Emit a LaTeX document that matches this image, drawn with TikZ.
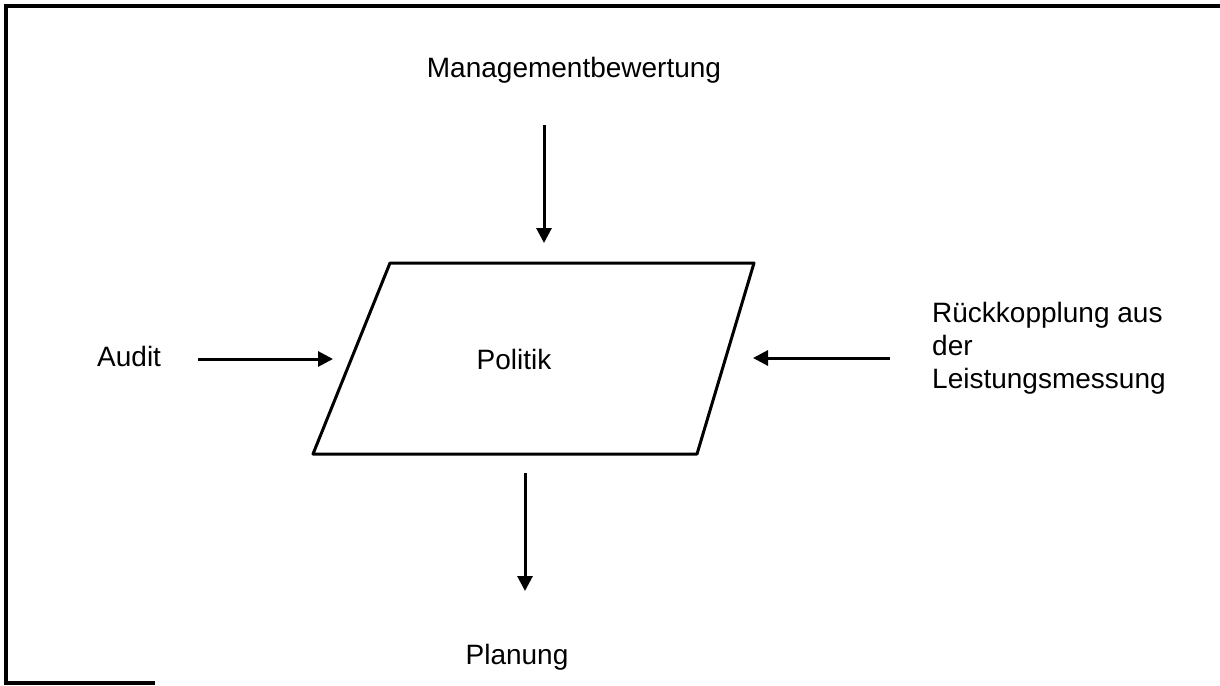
\documentclass[tikz,border=0pt]{standalone}
\usepackage{fontspec}
\setmainfont{Liberation Sans}
\usetikzlibrary{arrows.meta}
\begin{document}
\begin{tikzpicture}[x=1pt,y=-1pt,
  lbl/.style={font=\fontsize{28}{33}\selectfont, inner sep=0pt},
  arr/.style={line width=3pt, -{Triangle[length=15pt,width=15pt]}},
  frame/.style={line width=3.5pt}]
\useasboundingbox (0,0) rectangle (1220,685);
% frame (partial, as scanned)
\coordinate (f1) at (1220,6);
\coordinate (f2) at (6,6);
\coordinate (f3) at (6,683);
\coordinate (f4) at (155,683);
\draw[frame] (f1) -- (f2) -- (f3) -- (f4);
% parallelogram
\coordinate (p1) at (390,263);
\coordinate (p2) at (754,263);
\coordinate (p3) at (697,454);
\coordinate (p4) at (313,454);
\draw[line width=3pt, line join=round] (p1) -- (p2) -- (p3) -- (p4) -- cycle;
\node[lbl] (pol) at (514,359) {Politik};
% labels
\node[lbl] (mb) at (574,70) {Managementbewertung};
\node[lbl, anchor=west] (au) at (97,356) {Audit};
\node[lbl, anchor=west, align=left] (rk) at (932,348) {Rückkopplung aus\\der\\Leistungsmessung};
\node[lbl] (pl) at (517,657) {Planung};
% arrow endpoints
\coordinate (t1) at (544,125);
\coordinate (t2) at (544,243);
\coordinate (a1) at (198,359);
\coordinate (a2) at (333,359);
\coordinate (r1) at (890,358);
\coordinate (r2) at (753,358);
\coordinate (b1) at (525,473);
\coordinate (b2) at (525,591);
\draw[arr] (t1) -- (t2);
\draw[arr] (a1) -- (a2);
\draw[arr] (r1) -- (r2);
\draw[arr] (b1) -- (b2);
\end{tikzpicture}
\end{document}
